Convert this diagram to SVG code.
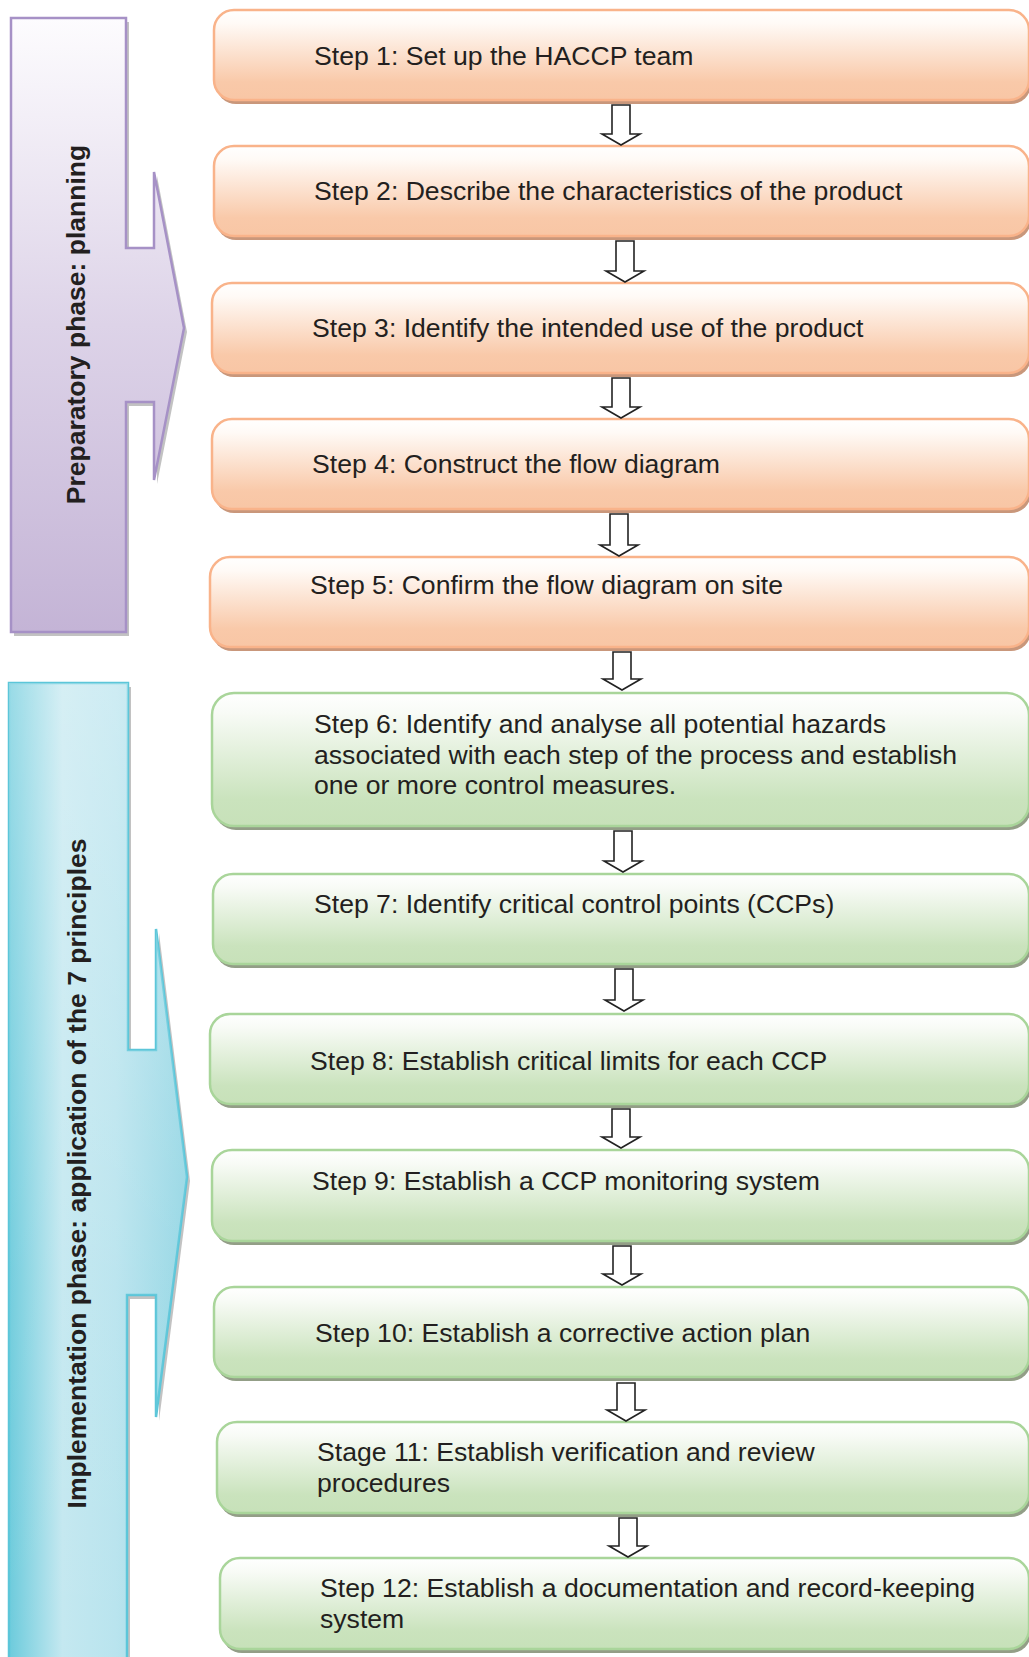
<svg xmlns="http://www.w3.org/2000/svg" width="1029" height="1657" viewBox="0 0 1029 1657">
<defs>
<linearGradient id="gOr" x1="0" y1="0" x2="0" y2="1">
<stop offset="0" stop-color="#ffffff"/><stop offset="0.15" stop-color="#fffaf6"/><stop offset="0.8" stop-color="#f9c9a9"/><stop offset="1" stop-color="#f8c6a5"/>
</linearGradient>
<linearGradient id="gGr" x1="0" y1="0" x2="0" y2="1">
<stop offset="0" stop-color="#ffffff"/><stop offset="0.15" stop-color="#f8fbf6"/><stop offset="0.8" stop-color="#cae3bd"/><stop offset="1" stop-color="#c7e1b9"/>
</linearGradient>
<linearGradient id="gPu" x1="0" y1="18" x2="0" y2="632" gradientUnits="userSpaceOnUse">
<stop offset="0" stop-color="#fdfcfe"/><stop offset="0.5" stop-color="#ddd3e8"/><stop offset="1" stop-color="#c4b4d6"/>
</linearGradient>
<linearGradient id="gBl" x1="9" y1="0" x2="187" y2="0" gradientUnits="userSpaceOnUse">
<stop offset="0" stop-color="#6ccbdc"/><stop offset="0.3" stop-color="#c4e8f0"/><stop offset="0.6" stop-color="#b9e4ee"/><stop offset="1" stop-color="#94d6e4"/>
</linearGradient>
<linearGradient id="gBlV" x1="0" y1="683" x2="0" y2="1657" gradientUnits="userSpaceOnUse">
<stop offset="0" stop-color="#ffffff" stop-opacity="0.3"/><stop offset="0.6" stop-color="#ffffff" stop-opacity="0.05"/><stop offset="1" stop-color="#ffffff" stop-opacity="0"/>
</linearGradient>
<style>
.t{font-family:"Liberation Sans",Arial,sans-serif;font-size:26.6px;fill:#231f20}
.pt{font-family:"Liberation Sans",Arial,sans-serif;font-size:26.5px;font-weight:bold;fill:#231f20}
.or{fill:url(#gOr);stroke:#f9b38a;stroke-width:2.5}
.ors{fill:#c9977b}
.gr{fill:url(#gGr);stroke:#a9d59a;stroke-width:2.5}
.grs{fill:#939e87}
.arr{fill:#ffffff;stroke:#222222;stroke-width:1.6;stroke-linejoin:miter}
</style>
</defs>

<g id="phase-preparatory">
<path d="M11,18 H126 V248 H154 V172 L184,328 L154,480 V402 H126 V632 H11 Z" transform="translate(3,4)" fill="#9a9a9a" opacity="0.6"/>
<path d="M11,18 H126 V248 H154 V172 L184,328 L154,480 V402 H126 V632 H11 Z" fill="url(#gPu)" stroke="#a691c6" stroke-width="2.5"/>
<text class="pt" text-anchor="middle" transform="translate(85,324.5) rotate(-90)">Preparatory phase: planning</text>
</g>

<g id="phase-implementation">
<path d="M9,683 H128 V1050 H156 V929 L187,1177 L156,1417 V1295 H127 V1660 H9 Z" transform="translate(3,4)" fill="#9a9a9a" opacity="0.6"/>
<path d="M9,683 H128 V1050 H156 V929 L187,1177 L156,1417 V1295 H127 V1660 H9 Z" fill="url(#gBl)" stroke="#5cc6d9" stroke-width="2.5"/>
<path d="M9,683 H128 V1050 H156 V929 L187,1177 L156,1417 V1295 H127 V1660 H9 Z" fill="url(#gBlV)"/>
<text class="pt" text-anchor="middle" transform="translate(86,1173.5) rotate(-90)">Implementation phase: application of the 7 principles</text>
</g>

<g id="step1"><rect class="ors" x="216" y="14" width="815" height="90" rx="20"/><rect class="or" x="214" y="10" width="815" height="90" rx="20"/><text class="t" x="314" y="65">Step 1: Set up the HACCP team</text></g>
<g id="step2"><rect class="ors" x="216" y="150" width="815" height="90" rx="20"/><rect class="or" x="214" y="146" width="815" height="90" rx="20"/><text class="t" x="314" y="200">Step 2: Describe the characteristics of the product</text></g>
<g id="step3"><rect class="ors" x="214" y="287" width="817" height="90" rx="20"/><rect class="or" x="212" y="283" width="817" height="90" rx="20"/><text class="t" x="312" y="337">Step 3: Identify the intended use of the product</text></g>
<g id="step4"><rect class="ors" x="214" y="423" width="817" height="90" rx="20"/><rect class="or" x="212" y="419" width="817" height="90" rx="20"/><text class="t" x="312" y="473">Step 4: Construct the flow diagram</text></g>
<g id="step5"><rect class="ors" x="212" y="561" width="819" height="90" rx="20"/><rect class="or" x="210" y="557" width="819" height="90" rx="20"/><text class="t" x="310" y="594">Step 5: Confirm the flow diagram on site</text></g>

<g id="step6"><rect class="grs" x="214" y="697" width="817" height="133" rx="22"/><rect class="gr" x="212" y="693" width="817" height="133" rx="22"/><text class="t" x="314" y="733">Step 6: Identify and analyse all potential hazards</text><text class="t" x="314" y="764">associated with each step of the process and establish</text><text class="t" x="314" y="794">one or more control measures.</text></g>
<g id="step7"><rect class="grs" x="215" y="878" width="816" height="90" rx="20"/><rect class="gr" x="213" y="874" width="816" height="90" rx="20"/><text class="t" x="314" y="913">Step 7: Identify critical control points (CCPs)</text></g>
<g id="step8"><rect class="grs" x="212" y="1018" width="819" height="90" rx="20"/><rect class="gr" x="210" y="1014" width="819" height="90" rx="20"/><text class="t" x="310" y="1070">Step 8: Establish critical limits for each CCP</text></g>
<g id="step9"><rect class="grs" x="214" y="1154" width="817" height="91" rx="20"/><rect class="gr" x="212" y="1150" width="817" height="91" rx="20"/><text class="t" x="312" y="1190">Step 9: Establish a CCP monitoring system</text></g>
<g id="step10"><rect class="grs" x="216" y="1291" width="815" height="90" rx="20"/><rect class="gr" x="214" y="1287" width="815" height="90" rx="20"/><text class="t" x="315" y="1342">Step 10: Establish a corrective action plan</text></g>
<g id="step11"><rect class="grs" x="219" y="1426" width="812" height="91" rx="20"/><rect class="gr" x="217" y="1422" width="812" height="91" rx="20"/><text class="t" x="317" y="1461">Stage 11: Establish verification and review</text><text class="t" x="317" y="1492">procedures</text></g>
<g id="step12"><rect class="grs" x="222" y="1562" width="809" height="91" rx="20"/><rect class="gr" x="220" y="1558" width="809" height="91" rx="20"/><text class="t" x="320" y="1597">Step 12: Establish a documentation and record-keeping</text><text class="t" x="320" y="1628">system</text></g>

<g id="connectors">
<path class="arr" d="M612,105 H630 V134 H640 L621,145 L602,134 H612 Z"/>
<path class="arr" d="M616,241 H634 V271 H644 L625,282 L606,271 H616 Z"/>
<path class="arr" d="M612,378 H630 V407 H640 L621,418 L602,407 H612 Z"/>
<path class="arr" d="M610,514 H628 V545 H638 L619,556 L600,545 H610 Z"/>
<path class="arr" d="M613,652 H631 V679 H641 L622,690 L603,679 H613 Z"/>
<path class="arr" d="M614,831 H632 V861 H642 L623,872 L604,861 H614 Z"/>
<path class="arr" d="M615,969 H633 V1000 H643 L624,1011 L605,1000 H615 Z"/>
<path class="arr" d="M612,1109 H630 V1137 H640 L621,1148 L602,1137 H612 Z"/>
<path class="arr" d="M613,1246 H631 V1274 H641 L622,1285 L603,1274 H613 Z"/>
<path class="arr" d="M617,1383 H635 V1410 H645 L626,1421 L607,1410 H617 Z"/>
<path class="arr" d="M619,1518 H637 V1546 H647 L628,1557 L609,1546 H619 Z"/>
</g>
</svg>
